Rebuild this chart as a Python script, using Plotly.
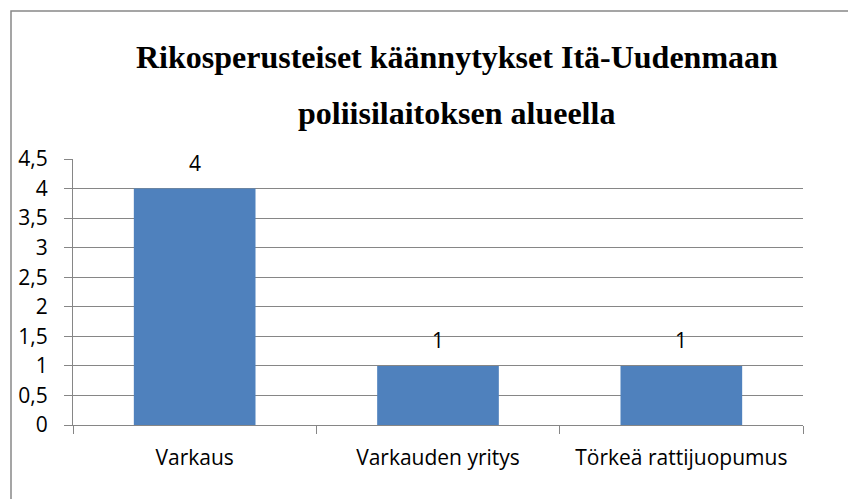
import plotly.graph_objects as go

categories = ["Varkaus", "Varkauden yritys", "Törkeä rattijuopumus"]
values = [4, 1, 1]
title_line1 = "Rikosperusteiset käännytykset Itä-Uudenmaan"
title_line2 = "poliisilaitoksen alueella"

GRID = "#868686"
BAR = "#4F81BD"
FONT = "Open Sans, sans-serif"
FS = 21

L, R, T, B = 73, 803, 159, 425
W, H = 848, 499

def px_to_paper(px, py):
    return (px - L) / (R - L), (B - py) / (B - T)

fig = go.Figure(go.Bar(
    x=categories, y=values,
    marker=dict(color=BAR, line=dict(width=0)),
    width=0.5,
    hoverinfo="x+y",
))

annotations = []
for cat, v in zip(categories, values):
    annotations.append(dict(
        x=cat, y=v, xref="x", yref="y", text=str(v), showarrow=False,
        xanchor="center", yanchor="middle", yshift=26,
        font=dict(family=FONT, size=FS, color="#000"),
    ))
for text, cy in [(title_line1, 57), (title_line2, 113)]:
    ax, ay = px_to_paper(457, cy)
    annotations.append(dict(
        text=f"<b>{text}</b>", x=ax, y=ay, xref="paper", yref="paper",
        showarrow=False, xanchor="center", yanchor="middle",
        font=dict(family="Liberation Serif, Times New Roman, serif", size=32, color="#000"),
    ))

fig.update_layout(
    width=W, height=H,
    margin=dict(l=L, r=W - R, t=T, b=H - B, pad=0),
    paper_bgcolor="white", plot_bgcolor="white",
    separators=", ",
    showlegend=False,
    font=dict(family=FONT, size=FS, color="#000"),
    annotations=annotations,
)

fig.update_yaxes(
    range=[0, 4.5], dtick=0.5, tick0=0,
    showgrid=True, gridcolor=GRID, gridwidth=1.3,
    showline=True, linecolor=GRID, linewidth=1.3,
    ticks="outside", ticklen=8, tickcolor=GRID, tickwidth=1.3,
    ticklabelstandoff=12,
    tickfont=dict(family=FONT, size=FS, color="#000"),
    zeroline=False, fixedrange=True,
)
fig.update_xaxes(
    showline=True, linecolor=GRID, linewidth=1.3,
    ticks="outside", ticklen=8, tickcolor=GRID, tickwidth=1.3, tickson="boundaries",
    ticklabelstandoff=14,
    tickfont=dict(family=FONT, size=FS, color="#000"),
    showgrid=False, fixedrange=True,
)

x0, y1 = px_to_paper(11, 11)
fig.add_shape(type="rect", xref="paper", yref="paper",
              x0=x0, x1=1.2, y0=-0.5, y1=y1,
              line=dict(color="#888888", width=1.5), layer="below")

fig.write_html(
    "out.html",
    config={"displayModeBar": False},
    post_script="document.body.style.margin='0';document.body.style.padding='0';",
)
